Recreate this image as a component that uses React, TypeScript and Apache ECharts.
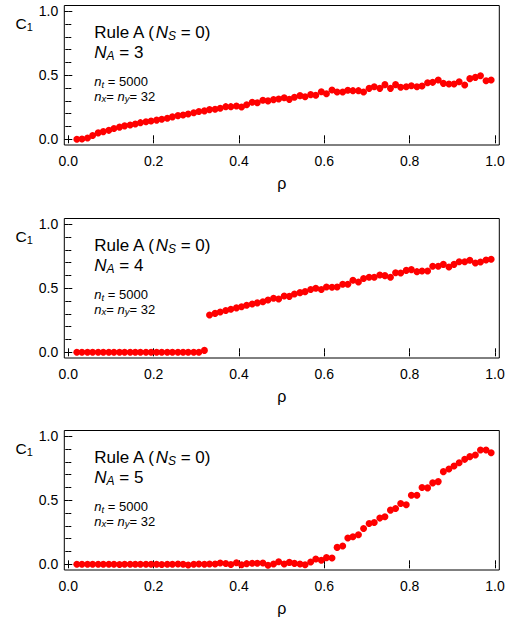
import React, { useEffect, useRef } from "react";
import * as echarts from "echarts";

const FONT = "'Liberation Sans', Arial, Helvetica, sans-serif";

const rho = [
  0.020, 0.032, 0.045, 0.057, 0.070, 0.082, 0.095, 0.107, 0.120, 0.132,
  0.145, 0.157, 0.169, 0.182, 0.194, 0.207, 0.219, 0.232, 0.244, 0.257,
  0.269, 0.281, 0.294, 0.306, 0.319, 0.331, 0.344, 0.356, 0.369, 0.381,
  0.394, 0.406, 0.418, 0.431, 0.443, 0.456, 0.468, 0.481, 0.493, 0.506,
  0.518, 0.530, 0.543, 0.555, 0.568, 0.580, 0.593, 0.605, 0.618, 0.630,
  0.643, 0.655, 0.667, 0.680, 0.692, 0.705, 0.717, 0.730, 0.742, 0.755,
  0.767, 0.779, 0.792, 0.804, 0.817, 0.829, 0.842, 0.854, 0.867, 0.879,
  0.892, 0.904, 0.916, 0.929, 0.941, 0.954, 0.966, 0.979, 0.991,
];

const c1NA3 = [
  0.000, 0.003, 0.010, 0.030, 0.050, 0.060, 0.070, 0.085, 0.095, 0.105,
  0.112, 0.120, 0.130, 0.137, 0.143, 0.150, 0.157, 0.165, 0.175, 0.185,
  0.190, 0.197, 0.207, 0.217, 0.222, 0.232, 0.235, 0.242, 0.255, 0.255,
  0.260, 0.252, 0.270, 0.290, 0.285, 0.305, 0.300, 0.310, 0.315, 0.325,
  0.312, 0.328, 0.341, 0.333, 0.349, 0.344, 0.372, 0.356, 0.385, 0.370,
  0.370, 0.383, 0.380, 0.380, 0.370, 0.398, 0.411, 0.398, 0.427, 0.398,
  0.427, 0.406, 0.411, 0.419, 0.411, 0.416, 0.442, 0.445, 0.463, 0.437,
  0.432, 0.432, 0.450, 0.424, 0.474, 0.484, 0.497, 0.458, 0.463,
];

const c1NA4 = [
  0.000, 0.000, 0.000, 0.000, 0.000, 0.000, 0.000, 0.000, 0.000, 0.000,
  0.000, 0.000, 0.000, 0.000, 0.000, 0.000, 0.000, 0.000, 0.000, 0.000,
  0.000, 0.000, 0.000, 0.000, 0.015, 0.291, 0.304, 0.315, 0.326, 0.336,
  0.347, 0.356, 0.367, 0.378, 0.386, 0.395, 0.408, 0.422, 0.416, 0.440,
  0.437, 0.455, 0.466, 0.474, 0.490, 0.500, 0.490, 0.510, 0.508, 0.510,
  0.531, 0.531, 0.563, 0.549, 0.576, 0.586, 0.586, 0.604, 0.599, 0.586,
  0.622, 0.620, 0.640, 0.646, 0.630, 0.635, 0.635, 0.672, 0.672, 0.687,
  0.667, 0.687, 0.708, 0.708, 0.719, 0.698, 0.706, 0.721, 0.727,
];

const c1NA5 = [
  0.000, 0.000, 0.000, 0.000, 0.000, 0.000, 0.000, 0.000, -0.002, 0.000,
  0.000, 0.000, 0.000, 0.000, 0.000, 0.000, -0.002, 0.000, 0.000, 0.003,
  0.000, -0.006, 0.000, 0.002, 0.000, 0.002, 0.003, 0.010, 0.006, -0.002,
  0.012, -0.004, 0.005, 0.008, 0.008, 0.010, -0.008, 0.003, 0.020, 0.002,
  0.015, 0.007, 0.002, -0.003, 0.018, 0.041, 0.031, 0.052, 0.049, 0.132,
  0.143, 0.205, 0.215, 0.231, 0.280, 0.319, 0.327, 0.361, 0.371, 0.423,
  0.436, 0.475, 0.465, 0.540, 0.540, 0.600, 0.597, 0.636, 0.646, 0.724,
  0.745, 0.768, 0.794, 0.820, 0.841, 0.854, 0.893, 0.893, 0.872,
];

const panelSeries = [c1NA3, c1NA4, c1NA5];
const panelNA = ["3", "4", "5"];
const xTickValues = [0, 0.2, 0.4, 0.6, 0.8, 1.0];
const yTickValues = [0, 0.5, 1.0];

// layout (pixels)
const GRID_LEFT = 68.3;
const GRID_WIDTH = 426.7;
const GRID_HEIGHT = 128;
const panelTop = [11.3, 224.3, 436.3];
const FRAME_LEFT = 64.3;
const FRAME_RIGHT = 499.3;
const OFF_BOTTOM = 5.7;
const OFF_TOP = 5.8;

export default function App() {
  const ref = useRef<HTMLDivElement>(null);

  useEffect(() => {
    if (!ref.current) return;
    const chart = echarts.init(ref.current, null, { renderer: "svg" });

    const grids: any[] = [];
    const xAxes: any[] = [];
    const yAxes: any[] = [];
    const series: any[] = [];
    const graphics: any[] = [];

    const tickStyle = { color: "#000", width: 1 };
    const fmt = (v: number) => v.toFixed(1);

    panelSeries.forEach((vals, i) => {
      const top = panelTop[i];
      grids.push({ left: GRID_LEFT, top, width: GRID_WIDTH, height: GRID_HEIGHT });
      const xBase = {
        type: "value",
        gridIndex: i,
        min: xTickValues[0],
        max: xTickValues[xTickValues.length - 1],
        interval: 0.2,
        axisLine: { show: false },
        axisTick: { show: true, inside: false, length: 4, lineStyle: tickStyle },
        splitLine: { show: false },
      };
      xAxes.push({
        ...xBase,
        position: "bottom",
        offset: OFF_BOTTOM,
        axisLabel: { show: true, formatter: fmt, fontSize: 14, color: "#000", fontFamily: FONT, margin: 9 },
      });
      xAxes.push({
        ...xBase,
        position: "top",
        offset: OFF_TOP,
        axisLabel: { show: false },
      });
      const yBase = {
        type: "value",
        gridIndex: i,
        min: yTickValues[0],
        max: yTickValues[yTickValues.length - 1],
        interval: 0.5,
        axisLine: { show: false },
        axisTick: { show: true, inside: false, length: 4, lineStyle: tickStyle },
        minorTick: { show: true, splitNumber: 5, length: 3, lineStyle: tickStyle },
        splitLine: { show: false },
        minorSplitLine: { show: false },
      };
      yAxes.push({
        ...yBase,
        position: "left",
        offset: GRID_LEFT - FRAME_LEFT,
        axisLabel: { show: true, formatter: fmt, fontSize: 14, color: "#000", fontFamily: FONT, margin: 6 },
      });
      yAxes.push({
        ...yBase,
        position: "right",
        offset: FRAME_RIGHT - (GRID_LEFT + GRID_WIDTH),
        axisLabel: { show: false },
      });
      series.push({
        type: "scatter",
        xAxisIndex: 2 * i,
        yAxisIndex: 2 * i,
        data: rho.map((r, k) => [r, vals[k]]),
        symbol: "circle",
        symbolSize: 7,
        itemStyle: { color: "#ff0000", opacity: 1 },
        clip: false,
        silent: true,
      });

      const frameTop = top - OFF_TOP;
      const frameBottom = top + GRID_HEIGHT + OFF_BOTTOM;
      graphics.push({
        type: "rect",
        shape: { x: FRAME_LEFT, y: frameTop, width: FRAME_RIGHT - FRAME_LEFT, height: frameBottom - frameTop },
        style: { fill: "none", stroke: "#000", lineWidth: 1 },
        silent: true,
      });

      const dy = top - panelTop[0];
      const big = { fontStyle: "italic", fontSize: 17, fontFamily: FONT, fill: "#000", lineHeight: 20 };
      const bigSub = { fontStyle: "italic", fontSize: 12, fontFamily: FONT, fill: "#000", lineHeight: 12, verticalAlign: "bottom" };
      const small = { fontStyle: "italic", fontSize: 13, fontFamily: FONT, fill: "#000", lineHeight: 15 };
      const smallSub = { fontStyle: "italic", fontSize: 9.5, fontFamily: FONT, fill: "#000", lineHeight: 10, verticalAlign: "bottom" };

      graphics.push({
        type: "text",
        style: {
          x: 94.3, y: 22.3 + dy,
          text: "Rule A ({n|N}{s|S} = 0)",
          fontSize: 17, fontFamily: FONT, fill: "#000", lineHeight: 20, verticalAlign: "top", align: "left",
          rich: { n: big, s: bigSub },
        },
        silent: true,
      });
      graphics.push({
        type: "text",
        style: {
          x: 94.3, y: 42.3 + dy,
          text: "{n|N}{s|A} = " + panelNA[i],
          fontSize: 17, fontFamily: FONT, fill: "#000", lineHeight: 20, verticalAlign: "top", align: "left",
          rich: { n: big, s: bigSub },
        },
        silent: true,
      });
      graphics.push({
        type: "text",
        style: {
          x: 94.3, y: 74 + dy,
          text: "{n|n}{s|t} = 5000",
          fontSize: 13, fontFamily: FONT, fill: "#000", lineHeight: 15, verticalAlign: "top", align: "left",
          rich: { n: small, s: smallSub },
        },
        silent: true,
      });
      graphics.push({
        type: "text",
        style: {
          x: 94.3, y: 88.6 + dy,
          text: "{n|n}{s|x}= {n|n}{s|y}= 32",
          fontSize: 13, fontFamily: FONT, fill: "#000", lineHeight: 15, verticalAlign: "top", align: "left",
          rich: { n: small, s: smallSub },
        },
        silent: true,
      });
      graphics.push({
        type: "text",
        style: {
          x: 15.5, y: 15 + dy,
          text: "C{c|1}",
          fontSize: 15.5, fontFamily: FONT, fill: "#000", lineHeight: 17, verticalAlign: "top", align: "left",
          rich: { c: { fontSize: 11, fontFamily: FONT, fill: "#000", lineHeight: 11, verticalAlign: "bottom" } },
        },
        silent: true,
      });
      graphics.push({
        type: "text",
        style: {
          x: 281.7, y: 183 + dy,
          text: "ρ",
          fontSize: 16, fontFamily: FONT, fill: "#000", verticalAlign: "middle", align: "center",
        },
        silent: true,
      });
    });

    chart.setOption({
      animation: false,
      backgroundColor: "#fff",
      textStyle: { fontFamily: FONT },
      grid: grids,
      xAxis: xAxes,
      yAxis: yAxes,
      series,
      graphic: { elements: graphics },
    });

    return () => chart.dispose();
  }, []);

  return (
    <div
      ref={ref}
      style={{ position: "fixed", left: 0, top: 0, width: 516, height: 620 }}
    />
  );
}
